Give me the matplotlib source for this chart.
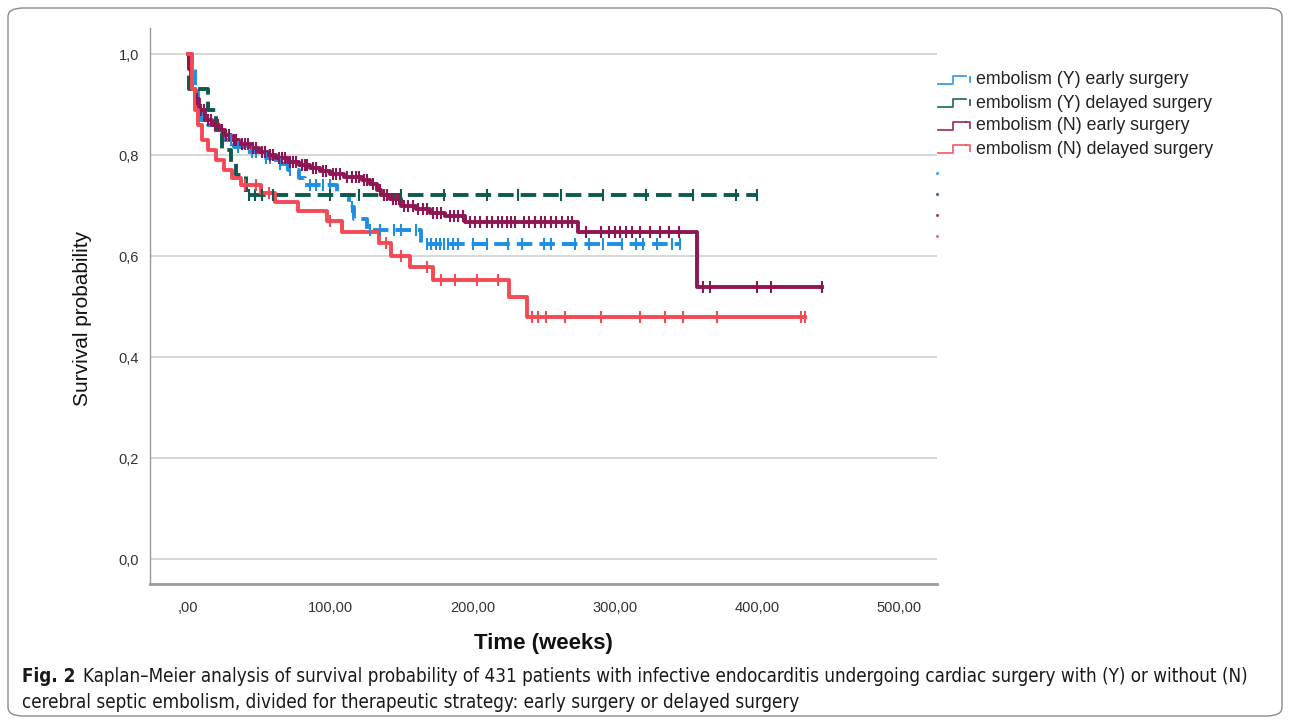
import numpy as np
import matplotlib.pyplot as plt
from matplotlib.lines import Line2D
from matplotlib.patches import FancyBboxPatch

W, H = 1290, 724

# embolism (Y) early surgery
blue_t = [3, 5, 7, 9, 14, 20, 25, 32, 40, 52, 62, 70, 78, 82, 105, 113, 117, 126, 164]
blue_s = [0.97, 0.93, 0.90, 0.87, 0.86, 0.845, 0.83, 0.815, 0.805, 0.795, 0.783, 0.77,
          0.755, 0.74, 0.72, 0.697, 0.673, 0.652, 0.623]
blue_end = 346
blue_cens = [30, 35, 45, 48, 55, 58, 65, 72, 86, 90, 95, 100, 115, 128, 135, 145, 150,
             160, 168, 171, 174, 177, 180, 183, 186, 190, 200, 210, 225, 235, 250, 255,
             272, 282, 292, 305, 315, 320, 330, 340, 346]

# embolism (Y) delayed surgery
green_t = [1, 14, 20, 24, 30, 34, 41]
green_s = [0.93, 0.89, 0.85, 0.81, 0.785, 0.76, 0.72]
green_end = 400
green_cens = [43, 47, 52, 60, 100, 120, 140, 150, 180, 210, 232, 262, 292, 322, 355, 385, 400]

# embolism (N) early surgery
maroon_t = [1, 2, 3, 5, 8, 12, 17, 22, 26, 30, 36, 44, 50, 56, 62, 70, 78, 86, 93, 100,
            110, 122, 128, 133, 136, 142, 150, 160, 170, 181, 195, 274, 358]
maroon_s = [0.97, 0.95, 0.93, 0.91, 0.89, 0.87, 0.86, 0.85, 0.84, 0.83, 0.822, 0.814,
            0.806, 0.80, 0.794, 0.786, 0.78, 0.774, 0.768, 0.762, 0.756, 0.75, 0.743,
            0.73, 0.72, 0.712, 0.70, 0.693, 0.686, 0.68, 0.668, 0.647, 0.539]
maroon_end = 446
maroon_cens = [6, 9, 11, 14, 16, 19, 21, 24, 27, 29, 32, 34, 38, 40, 42, 46, 48, 52, 54,
               58, 60, 64, 66, 68, 72, 74, 76, 80, 82, 84, 88, 90, 95, 97, 102, 104, 107,
               112, 115, 118, 120, 124, 126, 130, 135, 138, 140, 144, 146, 148, 152, 155,
               158, 162, 165, 168, 172, 175, 178, 184, 187, 190, 193, 198, 202, 205, 210,
               214, 218, 221, 224, 227, 230, 236, 240, 244, 248, 251, 255, 259, 263, 267,
               270, 280, 290, 296, 300, 304, 308, 312, 318, 325, 332, 338, 345, 362, 367,
               400, 410, 446]

# embolism (N) delayed surgery
red_t = [3, 5, 7, 10, 14, 20, 25, 31, 37, 51, 61, 77, 98, 108, 134, 143, 156, 172, 226, 238]
red_s = [0.93, 0.89, 0.86, 0.83, 0.81, 0.79, 0.77, 0.755, 0.74, 0.725, 0.707, 0.69, 0.67,
         0.648, 0.625, 0.60, 0.578, 0.553, 0.519, 0.479]
red_end = 434
red_cens = [40, 48, 57, 100, 139, 150, 168, 178, 188, 203, 218, 242, 246, 252, 265, 290,
            318, 335, 348, 372, 431, 434]

groups = [
    ("embolism (Y) early surgery", blue_t, blue_s, blue_end, blue_cens, "#1e8fe3", True),
    ("embolism (Y) delayed surgery", green_t, green_s, green_end, green_cens, "#0d5a4e", True),
    ("embolism (N) early surgery", maroon_t, maroon_s, maroon_end, maroon_cens, "#8e1652", False),
    ("embolism (N) delayed surgery", red_t, red_s, red_end, red_cens, "#f44a55", False),
]

y_ticks = [0.0, 0.2, 0.4, 0.6, 0.8, 1.0]
y_labels = ["0,0", "0,2", "0,4", "0,6", "0,8", "1,0"]
x_ticks = [0, 100, 200, 300, 400, 500]
x_labels = [",00", "100,00", "200,00", "300,00", "400,00", "500,00"]

caption_bold = "Fig. 2"
caption_1 = ("Kaplan\u2013Meier analysis of survival probability of 431 patients with infective "
             "endocarditis undergoing cardiac surgery with (Y) or without (N)")
caption_2 = ("cerebral septic embolism, divided for therapeutic strategy: early surgery "
             "or delayed surgery")


def fx(px):
    return px / W


def fy(py):
    return 1 - py / H


def draw_km(ax, t, s, end, cens, color, dashed):
    tt = np.array([0] + t + [end], dtype=float)
    ss = np.array([1.0] + s + [s[-1]])
    line, = ax.step(tt, ss, where="post", color=color, lw=2.8, zorder=3)
    if dashed:
        line.set_dashes((4.0, 1.8))
    ct = np.array(cens, dtype=float)
    idx = np.searchsorted(tt, ct, side="right") - 1
    ax.plot(ct, ss[idx], ls="none", marker="|", ms=9, mew=1.5, color=color, zorder=4)


plt.rcParams["font.family"] = ["Liberation Sans", "DejaVu Sans"]
fig = plt.figure(figsize=(W / 100, H / 100), dpi=100)
ax = fig.add_axes([fx(150), fy(584), fx(937) - fx(150), fy(28) - fy(584)])

for label, t, s, end, cens, color, dashed in groups:
    draw_km(ax, t, s, end, cens, color, dashed)

ax.set_xlim(-26.7, 526.5)
ax.set_ylim(-0.0495, 1.0515)
ax.set_yticks(y_ticks, y_labels)
ax.set_xticks(x_ticks, x_labels)
ax.tick_params(length=0, labelsize=10.5, labelcolor="#333333")
ax.tick_params(axis="x", pad=12)
ax.tick_params(axis="y", pad=8)
for y in y_ticks:
    ax.axhline(y, color="#cfcfcf", lw=1.2, zorder=1)
for side in ("top", "right"):
    ax.spines[side].set_visible(False)
ax.spines["left"].set_color("#9a9a9a")
ax.spines["left"].set_linewidth(1.0)
ax.spines["bottom"].set_color("#9a9a9a")
ax.spines["bottom"].set_linewidth(2.0)

ax.set_ylabel("Survival probability", fontsize=15, color="#111111")
ax.yaxis.set_label_coords(-0.0737, 0.478)
ax.set_xlabel("Time (weeks)", fontsize=16, fontweight="bold", color="#111111")
ax.xaxis.set_label_coords(0.4994, -0.088)

# legend with step icons
for i, (label, t, s, end, cens, color, dashed) in enumerate(groups):
    yc = 80 + i * 23
    xs = [fx(938), fx(953), fx(953), fx(966)]
    ys = [fy(yc + 4), fy(yc + 4), fy(yc - 4), fy(yc - 4)]
    fig.add_artist(Line2D(xs, ys, color=color, lw=1.3, alpha=0.85))
    if dashed:
        fig.add_artist(Line2D([fx(970), fx(970)], [fy(yc - 3), fy(yc + 2)], color=color, lw=1.2))
    else:
        fig.add_artist(Line2D([fx(966), fx(970), fx(970)], [fy(yc - 4), fy(yc - 4), fy(yc + 2)],
                              color=color, lw=1.3, alpha=0.85))
    fig.text(fx(976), fy(yc), label, fontsize=12.8, color="#222222", va="center", ha="left")
    fig.add_artist(Line2D([fx(937)], [fy(173 + i * 21)], ls="none", marker="o", ms=1.3,
                          color=color, alpha=0.7))

# caption
cap_font = dict(family=["DejaVu Sans"], stretch="condensed", fontsize=13.5, va="center",
                color="#1a1a1a")
bold = fig.text(fx(22), fy(677), caption_bold, fontweight="bold", **cap_font)
fig.canvas.draw()
bb = bold.get_window_extent()
fig.text(fx(bb.x1 + 8), fy(677), caption_1, **cap_font)
fig.text(fx(22), fy(703), caption_2, **cap_font)

fig.add_artist(FancyBboxPatch((fx(8), fy(716)), fx(1274), 708 / H,
                              boxstyle="round,pad=0,rounding_size=0.012",
                              transform=fig.transFigure, fill=False, ec="#8a8a8a", lw=1.0))

fig.savefig("out.png", dpi=100)
